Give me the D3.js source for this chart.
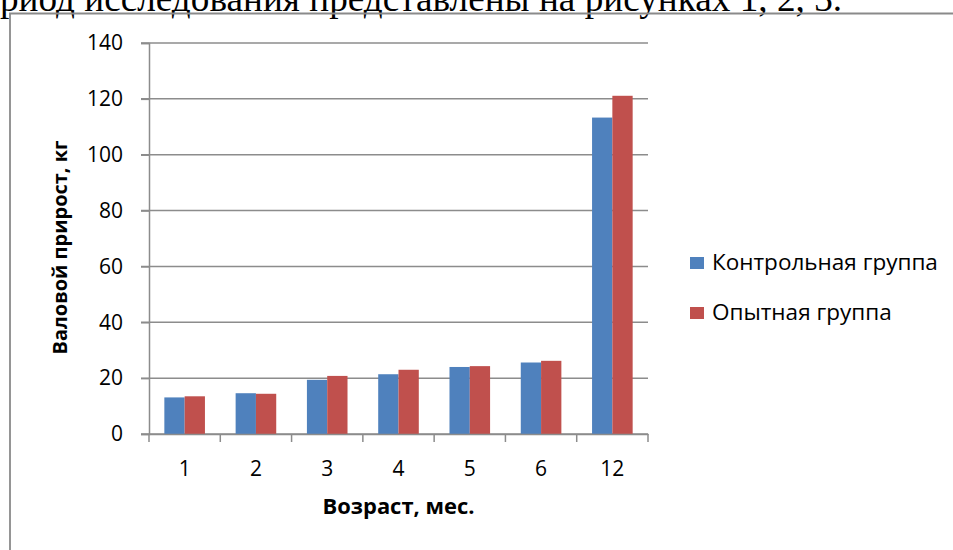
<!DOCTYPE html>
<html><head><meta charset="utf-8">
<script src="https://cdn.jsdelivr.net/npm/d3@7"></script>
<style>
html,body{margin:0;padding:0;background:#fff;}
svg{display:block;}
</style></head>
<body>
<script>
const categories = ["1","2","3","4","5","6","12"];
const seriesNames = ["Контрольная группа","Опытная группа"];
const control = [13.1, 14.6, 19.4, 21.4, 24.0, 25.6, 113.3];
const experimental = [13.5, 14.4, 20.8, 23.0, 24.3, 26.2, 121.1];
const yTicks = [0,20,40,60,80,100,120,140];
const colors = ["#4F81BD","#C0504D"];
const yTitle = "Валовой прирост, кг";
const xTitle = "Возраст, мес.";
const topText = "риод исследования представлены на рисунках 1, 2, 3.";

const W = 953, H = 550;
const svg = d3.select("body").append("svg").attr("width", W).attr("height", H);

// scale font size so that text reaches the target width
function fit(sel, target) {
  const fs = +sel.attr("font-size");
  const len = sel.node().getComputedTextLength();
  sel.attr("font-size", (fs * target / len).toFixed(2));
}

// preceding document text (cut off at top, as in the reference)
const tt = svg.append("text").attr("x", 0).attr("y", 11)
  .attr("font-family", "Liberation Serif").attr("font-size", 36).attr("fill", "#000")
  .text(topText);
fit(tt, 842);

// frame
svg.append("path").attr("d", `M10,${H}V13.5H${W}`)
  .attr("fill","none").attr("stroke","#8a8a8a").attr("stroke-width",1.8);

const x = d3.scaleBand().domain(categories).range([149, 648]).paddingInner(0).paddingOuter(0);
const x1 = d3.scaleBand().domain(seriesNames).range([0, x.bandwidth()]).paddingInner(0).paddingOuter(0.756);
const y = d3.scaleLinear().domain([0, 140]).range([434, 43]);

const gridColor = "#8c8c8c";
svg.append("g").selectAll("line").data(yTicks).join("line")
  .attr("x1", 141).attr("x2", 648)
  .attr("y1", d => y(d)).attr("y2", d => y(d))
  .attr("stroke", gridColor).attr("stroke-width", 1.5);

const data = categories.map((c,i) => ({c, vals:[control[i], experimental[i]]}));
const groups = svg.append("g").selectAll("g").data(data).join("g")
  .attr("transform", d => `translate(${x(d.c)},0)`);
groups.selectAll("rect").data(d => d.vals.map((v,j)=>({v, s:seriesNames[j], j}))).join("rect")
  .attr("x", d => x1(d.s)).attr("width", x1.bandwidth())
  .attr("y", d => y(d.v)).attr("height", d => y(0) - y(d.v))
  .attr("fill", d => colors[d.j]);

const tickFont = "Open Sans";
// y axis
const yAxis = svg.append("g").attr("transform","translate(149,0)")
  .call(d3.axisLeft(y).tickValues(yTicks).tickSize(8).tickPadding(18));
yAxis.select(".domain").attr("stroke", gridColor).attr("stroke-width", 1.5);
yAxis.selectAll(".tick line").attr("stroke", gridColor).attr("stroke-width", 1.5);
yAxis.selectAll("text").attr("font-family",tickFont).attr("font-size", 21).attr("fill","#000");

// x axis
const xAxis = svg.append("g").attr("transform", `translate(0,${y(0)})`)
  .call(d3.axisBottom(x).tickSize(0).tickPadding(27));
xAxis.select(".domain").attr("stroke", gridColor).attr("stroke-width", 1.5);
xAxis.selectAll("text").attr("font-family",tickFont).attr("font-size", 21).attr("fill","#000");
const bounds = categories.map(c => x(c)).concat([x.range()[1]]);
svg.append("g").selectAll("line").data(bounds).join("line")
  .attr("x1", d=>d).attr("x2", d=>d).attr("y1", y(0)).attr("y2", y(0)+8)
  .attr("stroke", gridColor).attr("stroke-width", 1.5);

// axis titles
const yt = svg.append("text").attr("transform", `translate(67,${(y(0)+y(140))/2 + 9}) rotate(-90)`)
  .attr("text-anchor","middle").attr("font-family","Open Sans").attr("font-weight","bold")
  .attr("font-size", 18).attr("fill","#000").text(yTitle);
fit(yt, 214);
const xt = svg.append("text").attr("x", (x.range()[0]+x.range()[1])/2).attr("y", 514)
  .attr("text-anchor","middle").attr("font-family","Open Sans").attr("font-weight","bold")
  .attr("font-size", 18).attr("fill","#000").text(xTitle);
fit(xt, 152);

// legend
const leg = svg.append("g").selectAll("g").data(seriesNames).join("g")
  .attr("transform", (d,i) => `translate(690,${263 + i*50})`);
leg.append("rect").attr("x",0).attr("y",-6).attr("width",14).attr("height",12)
  .attr("fill",(d,i)=>colors[i]);
const lt = leg.append("text").attr("x",22).attr("y",7).attr("font-family","Open Sans").attr("font-size",20)
  .attr("fill","#000").text(d=>d);
const lfs = 20 * 226 / lt.nodes()[0].getComputedTextLength();
lt.attr("font-size", lfs.toFixed(2));
</script>
</body></html>
